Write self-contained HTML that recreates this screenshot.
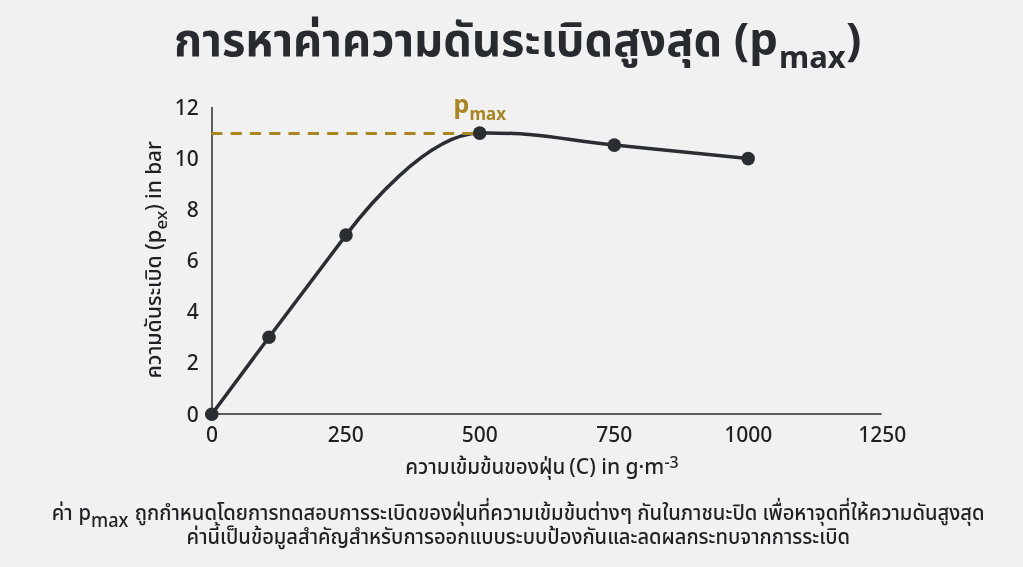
<!DOCTYPE html>
<html lang="th">
<head>
<meta charset="utf-8">
<style>
html,body{margin:0;padding:0;background:#f1f1f1;}
body{width:1023px;height:567px;overflow:hidden;position:relative;}
svg{position:absolute;left:0;top:0;will-change:transform;}
.th{font-family:"Noto Sans","Noto Sans Thai","Liberation Sans","DejaVu Sans",sans-serif;}
</style>
</head>
<body>
<svg width="1023" height="567" viewBox="0 0 1023 567">
  <!-- title -->
  <g class="th" font-weight="700" fill="#272b30">
    <text transform="translate(174,55.8) scale(0.962,1)" font-size="47">การหาค่าความดันระเบิดสูงสุด</text>
    <text x="733.8" y="55" font-size="45.5">(p</text>
    <text x="779" y="68" font-size="31">max</text>
    <text x="846" y="55" font-size="45.5">)</text>
  </g>

  <!-- axes -->
  <line x1="212" y1="107" x2="212" y2="415" stroke="#5a5b5d" stroke-width="2"/>
  <line x1="211" y1="414" x2="881.6" y2="414" stroke="#5a5b5d" stroke-width="2"/>

  <!-- y tick labels -->
  <g class="th" font-size="21" font-weight="500" fill="#1e2124" text-anchor="end">
    <text x="198.8" y="115.1">12</text>
    <text x="198.8" y="165.8">10</text>
    <text x="198.8" y="217">8</text>
    <text x="198.8" y="267.9">6</text>
    <text x="198.8" y="318.9">4</text>
    <text x="198.8" y="369.8">2</text>
    <text x="198.8" y="421.6">0</text>
  </g>
  <!-- x tick labels -->
  <g class="th" font-size="21" font-weight="500" fill="#1e2124" text-anchor="middle">
    <text x="212" y="441.8">0</text>
    <text x="345.7" y="441.8">250</text>
    <text x="479.7" y="441.8">500</text>
    <text x="614.3" y="441.8">750</text>
    <text x="748.3" y="441.8">1000</text>
    <text x="882.3" y="441.8">1250</text>
  </g>

  <!-- axis titles -->
  <text class="th" transform="translate(405.3,474) scale(0.965,1)" font-size="21.3" font-weight="500" fill="#1e2124">ความเข้มข้นของฝุ่น<tspan font-size="21.8" dx="-1.5"> (C) in g·m</tspan><tspan font-size="16.5" dy="-6.2" dx="0.3">-3</tspan></text>
  <text class="th" transform="translate(161.3,378.5) rotate(-90) scale(0.97,1)" font-size="22" font-weight="500" fill="#1e2124">ความดันระเบิด</text>
  <text class="th" transform="translate(161,250) rotate(-90)" font-size="22" font-weight="500" fill="#1e2124">(p<tspan font-size="17" dy="5.5">ex</tspan><tspan font-size="20.8" dy="-5.5">) in bar</tspan></text>

  <!-- pmax label -->
  <g class="th" font-weight="700" fill="#ab851f">
    <text x="453.5" y="113" font-size="25">p</text>
    <text x="469.5" y="119.8" font-size="17">max</text>
  </g>

  <!-- curve -->
  <path d="M211.8,414.2 L269,337.2 L346,235.1 C362,213.9 426.1,133.7 479.7,133.1 C544.3,132.4 560,139.6 614.3,145.1 L748.2,158.6" fill="none" stroke="#2a2e33" stroke-width="3.5" stroke-linecap="round" stroke-linejoin="round"/>
  <!-- pmax dashed -->
  <line x1="211.3" y1="133.5" x2="480" y2="133.5" stroke="#ab851f" stroke-width="3" stroke-dasharray="11.2 8.1"/>
  <g fill="#2a2e33">
    <circle cx="211.8" cy="414.2" r="6.8"/>
    <circle cx="269" cy="337.2" r="6.8"/>
    <circle cx="346" cy="235.1" r="6.8"/>
    <circle cx="479.7" cy="133.1" r="6.8"/>
    <circle cx="614.3" cy="145.1" r="6.8"/>
    <circle cx="748.2" cy="158.6" r="6.8"/>
  </g>

  <!-- caption -->
  <g class="th" font-size="21.8" font-weight="500" fill="#1e2124">
    <text transform="translate(51.8,519.8) scale(0.926,1)">ค่า <tspan dx="0.6">p</tspan><tspan font-size="19.6" dy="7">max</tspan><tspan dy="-7" dx="1"> ถูกกำหนดโดยการทดสอบการระเบิดของฝุ่นที่ความเข้มข้นต่างๆ กันในภาชนะปิด เพื่อหาจุดที่ให้ความดันสูงสุด</tspan></text>
    <text transform="translate(186.6,543.6) scale(0.923,1)">ค่านี้เป็นข้อมูลสำคัญสำหรับการออกแบบระบบป้องกันและลดผลกระทบจากการระเบิด</text>
  </g>
</svg>
</body>
</html>
